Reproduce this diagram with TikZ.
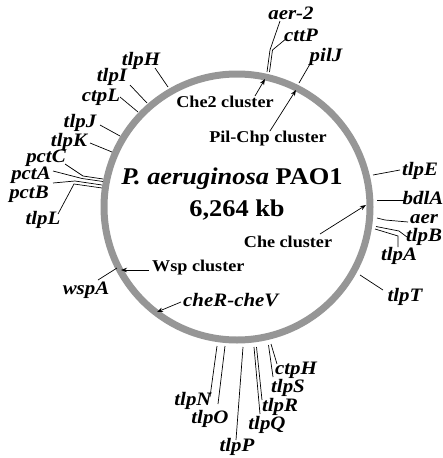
\documentclass[tikz,border=0pt]{standalone}
\usepackage{fontspec}
\setmainfont{Liberation Serif}[FakeStretch=1.1]
\usetikzlibrary{arrows.meta}
\definecolor{ringgray}{RGB}{150,150,150}
\begin{document}
\begin{tikzpicture}[x=1pt,y=-1pt,
  gene/.style={font=\fontsize{19}{19}\selectfont\bfseries\itshape, inner sep=0pt},
  clus/.style={font=\fontsize{16.5}{16.5}\selectfont\bfseries, inner sep=0pt},
  bigtext/.style={font=\fontsize{24}{24}\selectfont\bfseries, inner sep=0pt},
  tick/.style={line width=0.7pt, draw=black},
  ptr/.style={line width=0.7pt, draw=black, -{Stealth[length=6pt,width=4.5pt]}},
  ringline/.style={line width=7pt, draw=ringgray}]
\useasboundingbox (0,0) rectangle (442,458);
\coordinate (C) at (237,207);
\draw[ringline] (C) circle[radius=133];

% centre text
\node[bigtext] (title) at (232,179) {\textit{P. aeruginosa} PAO1};
\node[bigtext] (gsize) at (237,210) {6,264 kb};

% cluster labels
\node[clus] (che2) at (225,102) {Che2 cluster};
\node[clus] (pilchp) at (268,139) {Pil-Chp cluster};
\node[clus] (che) at (288,242) {Che cluster};
\node[clus, anchor=west] (wsp) at (152,268) {Wsp cluster};
\node[gene, anchor=west] (cherv) at (183,300) {cheR-cheV};

% cluster arrows
\coordinate (che2a) at (255,96);   \coordinate (che2b) at (265,79);
\coordinate (pila) at (270,131);   \coordinate (pilb) at (296,90);
\coordinate (chea) at (320,234);   \coordinate (cheb) at (366,205);
\coordinate (wspa) at (149,270);   \coordinate (wspb) at (121,270);
\coordinate (chra) at (181,302);   \coordinate (chrb) at (157,312);
\draw[ptr] (che2a) -- (che2b);
\draw[ptr] (pila) -- (pilb);
\draw[ptr] (chea) -- (cheb);
\draw[ptr] (wspa) -- (wspb);
\draw[ptr] (chra) -- (chrb);

% gene labels
\node[gene] (aerII) at (291,13) {aer-2};
\node[gene] (cttP) at (301,35) {cttP};
\node[gene] (pilJ) at (326,57) {pilJ};
\node[gene] (tlpH) at (141,61) {tlpH};
\node[gene] (tlpI) at (112,77) {tlpI};
\node[gene] (ctpL) at (101,97) {ctpL};
\node[gene] (tlpJ) at (80,123) {tlpJ};
\node[gene] (tlpK) at (69,142) {tlpK};
\node[gene] (pctC) at (46,158) {pctC};
\node[gene] (pctA) at (31,175) {pctA};
\node[gene] (pctB) at (29,194) {pctB};
\node[gene] (tlpL) at (43,220) {tlpL};
\node[gene] (wspA) at (86,290) {wspA};
\node[gene] (tlpN) at (193,401) {tlpN};
\node[gene] (tlpO) at (210,419) {tlpO};
\node[gene] (tlpP) at (237,447) {tlpP};
\node[gene] (tlpQ) at (267,425) {tlpQ};
\node[gene] (tlpR) at (280,407) {tlpR};
\node[gene] (tlpS) at (288,388) {tlpS};
\node[gene] (ctpH) at (296,370) {ctpH};
\node[gene] (tlpT) at (405,297) {tlpT};
\node[gene] (tlpA) at (399,256) {tlpA};
\node[gene] (tlpB) at (424,236.5) {tlpB};
\node[gene] (aer) at (424,219.5) {aer};
\node[gene] (bdlA) at (423,198) {bdlA};
\node[gene] (tlpE) at (420,171) {tlpE};

% gene ticks (ring point -> label end)
\draw[tick] (267,72) -- (270,50) -- (280,21);
\draw[tick] (269.5,72) -- (272.5,50) -- (287,38);
\draw[tick] (299,83) -- (310,64);
\draw[tick] (168,87) -- (155,68);
\draw[tick] (147,103) -- (130,85);
\draw[tick] (138,112) -- (120,97);
\draw[tick] (120,136) -- (100,125);
\draw[tick] (112,152) -- (90,143);
\draw[tick] (103,179) -- (83,176) -- (65,164);
\draw[tick] (103,181.5) -- (82,178.5) -- (53,171);
\draw[tick] (102,185) -- (75,181) -- (53,183);
\draw[tick] (102,188) -- (74,184) -- (58,214);
\draw[tick] (117,268) -- (98,280);
\draw[tick] (217,346) -- (210,397);
\draw[tick] (225,346) -- (218,404);
\draw[tick] (243,347) -- (236,440);
\draw[tick] (254,347) -- (260,414);
\draw[tick] (256.5,347) -- (262,400);
\draw[tick] (268.5,345) -- (273,377);
\draw[tick] (271,344) -- (277,364);
\draw[tick] (360,275) -- (383,290);
\draw[tick] (375,229) -- (398,236) -- (398,247);
\draw[tick] (376,226.5) -- (399,231) -- (407,237);
\draw[tick] (377,218) -- (385,220) -- (408,222);
\draw[tick] (377,200) -- (405,200);
\draw[tick] (373,175) -- (400,170);
\end{tikzpicture}
\end{document}
